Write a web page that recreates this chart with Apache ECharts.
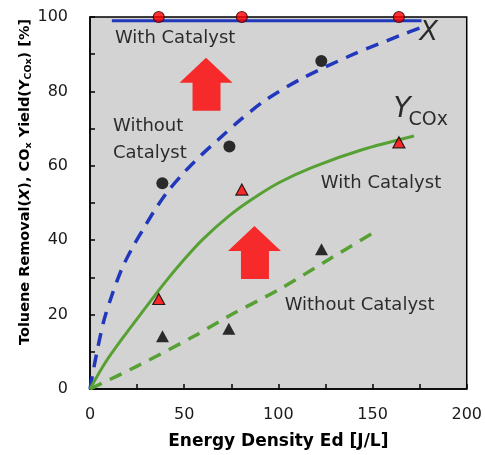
<!DOCTYPE html>
<html>
<head>
<meta charset="utf-8">
<script src="https://cdn.jsdelivr.net/npm/echarts@6/dist/echarts.min.js"></script>
<style>
html,body{margin:0;padding:0;background:#fff;}
#chart{width:485px;height:455px;}
</style>
</head>
<body>
<div id="chart"></div>
<script>
// ---- data ----
const xTicks = [0, 50, 100, 150, 200];
const yTicks = [0, 20, 40, 60, 80, 100];

// Toluene removal X, with catalyst (red circles) and its fitted line
const catRemovalPts = [[36.5, 100], [80.6, 100], [164, 100]];
const catRemovalLine = [[11.6, 99], [176, 99]];

// Toluene removal X, without catalyst (black circles) and dashed curve
const noCatRemovalCurve = [[0, 0], [2.6, 7.2], [7.1, 17.9], [11.5, 25], [16.8, 32.2], [22, 37.5],
  [28.2, 42.9], [34.4, 48.1], [41.4, 53.2], [50.3, 58.4], [59.1, 62.9], [68, 67], [79, 72.0],
  [93, 77.6], [113, 83.6], [140, 90], [166, 95.3], [175, 97]];
const noCatRemovalPts = [[38.4, 55.3], [74, 65.2], [122.8, 88.2]];

// COx yield, with catalyst (red triangles) and solid curve
const catYieldPts = [[36.5, 24.2], [80.6, 53.6], [164, 66.3]];
const catYieldCurve = [[0, 0], [8, 7.0], [18.5, 14.5], [29.1, 21.6], [39.7, 28.6], [50.3, 35.0],
  [60, 40.3], [74, 46.6], [86, 51], [100.5, 55.5], [118, 59.6], [144.4, 64.3], [172, 68]];

// COx yield, without catalyst (black triangles) and dashed curve
const noCatYieldPts = [[38.5, 14.2], [73.7, 16.2], [122.9, 37.6]];
const noCatYieldCurve = [[0, 0], [25.6, 6.3], [55.6, 14.3], [74, 19.7], [100.5, 26.8], [127, 34.9], [151, 42.2]];

// Annotation anchors (data coordinates)
const arrowPts = [[61.6, 81.9], [87.3, 36.7]];
const annotTexts = ['With Catalyst', 'Without\nCatalyst', 'With Catalyst', 'Without Catalyst'];
const annotPts = [[45.2, 94.2], [12.2, 67], [154.5, 55.4], [143.1, 22.4]];
const xLabelPt = [179.9, 95.7];
const yLabelPt = [175.6, 74.2];

const FONT = 'DejaVu Sans';
const BLUE = '#2138BD';
const GREEN = '#57A033';
const ARROW = 'path://M26.5,0 L53,25 L41,25 L41,53 L13,53 L13,25 L0,25 Z';

const chart = echarts.init(document.getElementById('chart'), null, {renderer: 'canvas'});

const annotData = annotPts.map((p, i) => ({
  value: p,
  label: {
    formatter: annotTexts[i],
    align: i === 1 ? 'left' : 'center'
  }
}));

const option = {
  animation: false,
  backgroundColor: '#fff',
  grid: {
    left: 90, right: 17, top: 17, bottom: 65,
    show: true, backgroundColor: '#d3d3d3', borderColor: '#000', borderWidth: 1.5
  },
  xAxis: {
    type: 'value', min: 0, max: 200, interval: 25,
    name: 'Energy Density Ed [J/L]', nameLocation: 'middle', nameGap: 44,
    nameTextStyle: {fontFamily: FONT, fontWeight: 'bold', fontSize: 17, color: '#000'},
    axisLine: {show: true, lineStyle: {color: '#000', width: 1.5}},
    axisTick: {show: true, inside: true, length: 5, lineStyle: {color: '#000', width: 1.5}},
    axisLabel: {
      margin: 18, fontFamily: FONT, fontSize: 16, color: '#1a1a1a',
      formatter: v => (xTicks.indexOf(v) >= 0 ? String(v) : '')
    },
    splitLine: {show: false}
  },
  yAxis: {
    type: 'value', min: 0, max: 100, interval: 10,
    axisLine: {show: true, lineStyle: {color: '#000', width: 1.5}},
    axisTick: {show: true, inside: true, length: 5, lineStyle: {color: '#000', width: 1.5}},
    axisLabel: {
      margin: 22, fontFamily: FONT, fontSize: 16, color: '#1a1a1a',
      formatter: v => (yTicks.indexOf(v) >= 0 ? String(v) : '')
    },
    splitLine: {show: false}
  },
  graphic: [{
    type: 'text',
    x: 25, y: 182,
    rotation: Math.PI / 2,
    style: {
      text: '{b|Toluene Removal(}{bi|X}{b|), CO}{s|x}{b| Yield(Y}{s|COx}{b|) [%]}',
      align: 'center', verticalAlign: 'middle',
      rich: {
        b: {fontFamily: FONT, fontWeight: 'bold', fontSize: 14.5, lineHeight: 18, fill: '#000', verticalAlign: 'middle'},
        bi: {fontFamily: FONT, fontWeight: 'bold', fontStyle: 'italic', fontSize: 14.5, lineHeight: 18, fill: '#000', verticalAlign: 'middle'},
        s: {fontFamily: FONT, fontWeight: 'bold', fontSize: 9.5, lineHeight: 18, fill: '#000', verticalAlign: 'bottom'}
      }
    }
  }],
  series: [
    {
      type: 'scatter', name: 'arrows', data: arrowPts,
      symbol: ARROW, symbolSize: [53, 53], z: 1,
      itemStyle: {color: '#ff0000'}, silent: true
    },
    {
      type: 'line', name: 'X with catalyst line', data: catRemovalLine,
      showSymbol: false, symbol: 'none', z: 2,
      lineStyle: {color: BLUE, width: 3}
    },
    {
      type: 'line', name: 'X without catalyst curve', data: noCatRemovalCurve,
      showSymbol: false, symbol: 'none', smooth: 0.3, z: 2,
      lineStyle: {color: BLUE, width: 3.5, type: [13, 9]}
    },
    {
      type: 'line', name: 'Y with catalyst curve', data: catYieldCurve,
      showSymbol: false, symbol: 'none', smooth: 0.3, z: 2,
      lineStyle: {color: GREEN, width: 3}
    },
    {
      type: 'line', name: 'Y without catalyst curve', data: noCatYieldCurve,
      showSymbol: false, symbol: 'none', smooth: 0.3, z: 2,
      lineStyle: {color: GREEN, width: 3.5, type: [13, 9]}
    },
    {
      type: 'scatter', name: 'X with catalyst', data: catRemovalPts, clip: false,
      symbol: 'circle', symbolSize: 11, z: 5,
      itemStyle: {color: '#ff0000', borderColor: '#3a0000', borderWidth: 1.2}
    },
    {
      type: 'scatter', name: 'X without catalyst', data: noCatRemovalPts,
      symbol: 'circle', symbolSize: 12, z: 5,
      itemStyle: {color: '#000'}
    },
    {
      type: 'scatter', name: 'Y with catalyst', data: catYieldPts,
      symbol: 'triangle', symbolSize: [12, 11], z: 5,
      itemStyle: {color: '#ff0000', borderColor: '#000', borderWidth: 1.2}
    },
    {
      type: 'scatter', name: 'Y without catalyst', data: noCatYieldPts,
      symbol: 'triangle', symbolSize: [13, 12], z: 5,
      itemStyle: {color: '#000'}
    },
    {
      type: 'scatter', name: 'annotations', data: annotData,
      symbolSize: 0, z: 6, silent: true,
      label: {
        show: true, position: 'inside', verticalAlign: 'middle',
        fontFamily: FONT, fontSize: 18, lineHeight: 27, color: '#000'
      }
    },
    {
      type: 'scatter', name: 'axis symbols', clip: false,
      data: [
        {value: xLabelPt, label: {formatter: '{x|X}'}},
        {value: yLabelPt, label: {formatter: '{y|Y}{s|COx}'}}
      ],
      symbolSize: 0, z: 6, silent: true,
      label: {
        show: true, position: 'inside', align: 'center', verticalAlign: 'middle',
        rich: {
          x: {fontFamily: FONT, fontStyle: 'italic', fontSize: 27, color: '#000', lineHeight: 30},
          y: {fontFamily: FONT, fontStyle: 'italic', fontSize: 28, color: '#000', lineHeight: 34, verticalAlign: 'top'},
          s: {fontFamily: FONT, fontSize: 19, color: '#000', lineHeight: 34, verticalAlign: 'bottom', padding: [0, 0, 0, -2]}
        }
      }
    }
  ]
};

chart.setOption(option);
</script>
</body>
</html>
